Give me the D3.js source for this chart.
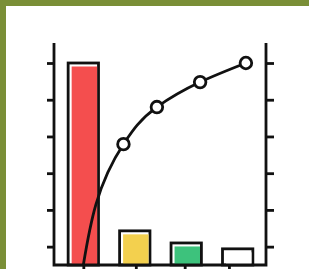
<!DOCTYPE html>
<html>
<head>
<meta charset="utf-8">
<script src="https://cdn.jsdelivr.net/npm/d3@7"></script>
<style>
  body { margin: 0; background: #fff; }
  svg { display: block; }
</style>
</head>
<body>
<script>
// bars (left axis units)
var categories = ["A", "B", "C", "D"];
var barValues = [55, 9.3, 6, 4.4];
var barColors = ["#f44e4e", "#f3d04e", "#3dc27c", "#ffffff"];

// cumulative line: position along x (in bar steps) and value
var lineX = [0, 0.78, 1.43, 2.27, 3.16];
var lineY = [0, 32.9, 43, 49.8, 55];

var yTicks = [5, 15, 25, 35, 45, 55];
var xTicks = [0, 1.02, 1.97, 2.83];

var width = 309,
    height = 269;
var sw = 2.8; // stroke width used everywhere

var svg = d3.select("body").append("svg")
    .attr("width", width)
    .attr("height", height);

// frame
svg.append("rect").attr("width", width).attr("height", height).attr("fill", "#7a8f37");
svg.append("rect").attr("x", 6).attr("y", 6).attr("width", width - 6).attr("height", height - 6).attr("fill", "#fff");

var mLeft = 54, mRight = 266, mBottom = 265, mTop = 43;

var y = d3.scaleLinear().domain([0, 55]).range([mBottom, 63]);

var x = d3.scaleBand()
    .domain(categories)
    .range([mLeft, mRight + 1])
    .paddingInner(0.41)
    .paddingOuter(0.275);

var xl = d3.scaleLinear()
    .domain([0, 1])
    .range([x(categories[0]) + x.bandwidth() / 2, x(categories[1]) + x.bandwidth() / 2]);

// bars
var bar = svg.selectAll(".bar")
    .data(barValues)
    .enter().append("g")
    .attr("class", "bar");

bar.append("rect")
    .attr("x", function (d, i) { return x(categories[i]); })
    .attr("y", function (d) { return y(d); })
    .attr("width", x.bandwidth())
    .attr("height", function (d) { return mBottom - y(d); })
    .attr("fill", "#fff")
    .attr("stroke", "#111")
    .attr("stroke-width", sw);

bar.append("rect")
    .attr("x", function (d, i) { return x(categories[i]) + 3.5; })
    .attr("y", function (d) { return y(d) + 3.5; })
    .attr("width", x.bandwidth() - 4.9)
    .attr("height", function (d) { return Math.max(0, mBottom - y(d) - 3.5); })
    .attr("fill", function (d, i) { return barColors[i]; });

// axes
var axisLeft = d3.axisLeft(y).tickValues(yTicks).tickSize(7).tickFormat("");
var axisRight = d3.axisRight(y).tickValues(yTicks).tickSize(8).tickFormat("");
var axisBottom = d3.axisBottom(xl).tickValues(xTicks).tickSize(8).tickFormat("");

function styleAxis(g) {
    g.select(".domain").remove();
    g.selectAll(".tick line").attr("stroke", "#111").attr("stroke-width", sw);
}

svg.append("g").attr("transform", "translate(" + mLeft + ",0)").call(axisLeft).call(styleAxis);
svg.append("g").attr("transform", "translate(" + mRight + ",0)").call(axisRight).call(styleAxis);
svg.append("g").attr("transform", "translate(0," + mBottom + ")").call(axisBottom).call(styleAxis);

svg.append("path")
    .attr("d", "M" + mLeft + "," + mTop + "V" + mBottom + "H" + mRight + "V" + mTop)
    .attr("fill", "none")
    .attr("stroke", "#111")
    .attr("stroke-width", sw);

// cumulative line
var pts = lineX.map(function (d, i) { return [xl(d), y(lineY[i])]; });

svg.append("path")
    .attr("d", d3.line().curve(d3.curveMonotoneY)(pts))
    .attr("fill", "none")
    .attr("stroke", "#111")
    .attr("stroke-width", sw);

svg.selectAll(".dot")
    .data(pts.slice(1))
    .enter().append("circle")
    .attr("class", "dot")
    .attr("cx", function (d) { return d[0]; })
    .attr("cy", function (d) { return d[1]; })
    .attr("r", 5.8)
    .attr("fill", "#fff")
    .attr("stroke", "#111")
    .attr("stroke-width", sw);
</script>
</body>
</html>
